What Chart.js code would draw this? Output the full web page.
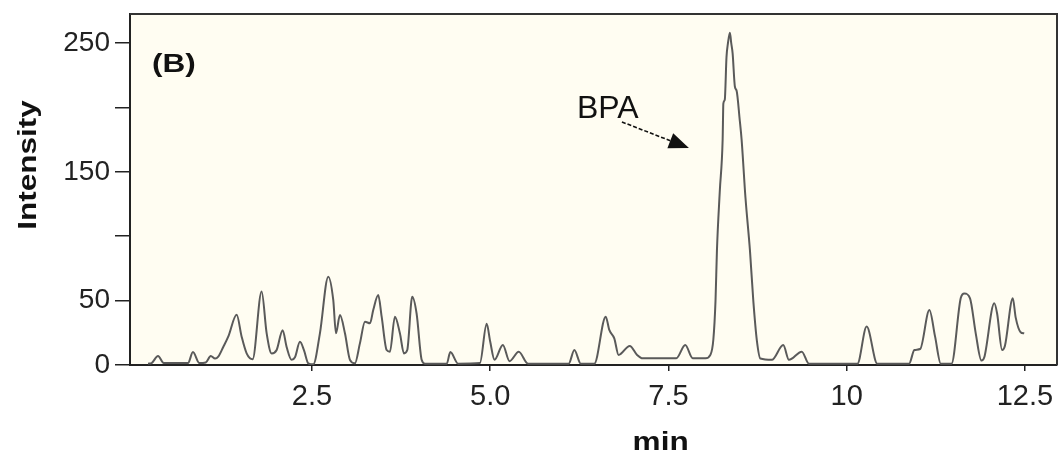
<!DOCTYPE html>
<html><head><meta charset="utf-8">
<script src="https://cdn.jsdelivr.net/npm/chart.js@4"></script>
<style>html,body{margin:0;padding:0;background:#fff;}</style>
</head><body>
<canvas id="c" width="1059" height="466"></canvas>
<script>
// ---- data ----
const times = [
  0.20,0.25,0.34,0.42,0.76,0.83,0.92,1.01,1.08,1.14,1.185,1.255,1.325,1.443,1.513,1.583,1.667,
  1.793,1.864,1.934,2.004,2.088,2.144,2.214,2.261,2.331,2.387,2.448,2.518,2.611,2.728,2.798,2.836,
  2.892,2.962,3.032,3.102,3.172,3.243,3.313,3.359,3.429,3.477,3.547,3.593,3.663,3.733,3.790,3.836,
  3.906,3.967,4.038,4.084,4.39,4.44,4.55,4.855,4.95,5.00,5.06,5.177,5.27,5.40,5.53,6.10,6.18,6.27,
  6.46,6.62,6.67,6.74,6.80,6.957,7.06,7.14,7.61,7.735,7.84,8.02,8.09,8.13,8.16,8.18,8.22,8.26,8.27,
  8.29,8.314,8.335,8.362,8.38,8.40,8.432,8.456,8.50,8.526,8.58,8.643,8.69,8.74,8.79,8.95,9.11,9.19,
  9.37,9.47,10.15,10.28,10.43,10.875,10.95,11.03,11.16,11.24,11.32,11.47,11.60,11.65,11.73,11.81,
  11.89,11.93,12.07,12.11,12.18,12.22,12.33,12.37,12.44,12.49
];
const intensity = [
  1,1.5,7,1.5,1.5,10,1.5,2,7,5,6.5,14,22,39,22,9,4.4,
  57,24.6,9,11.6,27,14,4,6,18,11.6,1.3,0.5,24.6,68.6,50.5,24.6,
  38.8,24.6,4,1.3,16.8,33.6,32.4,42.7,54.3,37.5,11.6,10.3,37.5,24.6,9,11.6,
  53,40,4,1,1,10,1,1.5,32,18,4,15.5,3,10.3,1,1,11.6,1,
  1,37.5,27.2,20.7,7.8,14.8,7.8,5.2,5.2,15.5,5.2,5.2,8,20,50,89,135,175,203,
  206,239,250,258,250,242,216,213,190,175,130,89,50,19,5,4,15.5,4,
  10.3,1,1,29.8,1,1,11.6,12.4,42.7,22,1,1,52,55.6,51.8,24.6,
  3.4,6,47.9,40,11.6,15,51.8,37,25.5,24.6
];
const xTicks = [2.5, 5, 7.5, 10, 12.5];
const xTickLabels = ['2.5', '5.0', '7.5', '10', '12.5'];
const yTicks = [0, 50, 100, 150, 200, 250];
const yTickLabels = ['0', '50', '', '150', '', '250'];
const xTitle = 'min';
const yTitle = 'Intensity';
const panelLabel = '(B)';
const peakLabel = 'BPA';

// ---- annotation placement (data coordinates) ----
const annot = {
  panel: {x: 0.255, y: 227.5},
  peak: {x: 6.216, y: 191.8},
  arrowFrom: {x: 6.847, y: 188.7},
  arrowTo: {x: 7.787, y: 168.5},
  xTitleX: 7.39,
  yTitleY: 155.3
};

const points = times.map((t, i) => ({x: t, y: intensity[i]}));

const bgPlugin = {
  id: 'bg',
  beforeDraw(chart) {
    const {ctx, chartArea: a} = chart;
    ctx.save();
    ctx.fillStyle = '#fffdf2';
    ctx.fillRect(a.left, a.top, a.right - a.left, a.bottom - a.top);
    ctx.restore();
  }
};

function stretchedText(ctx, txt, x, y, sx, rot, align) {
  ctx.save();
  ctx.translate(x, y);
  if (rot) ctx.rotate(rot);
  ctx.scale(sx, 1);
  ctx.textAlign = align;
  ctx.textBaseline = 'alphabetic';
  ctx.fillText(txt, 0, 0);
  ctx.restore();
}

const annotPlugin = {
  id: 'annot',
  afterDraw(chart) {
    const {ctx, chartArea: a, scales: {x, y}} = chart;
    ctx.save();
    // top and right frame
    ctx.strokeStyle = '#333';
    ctx.lineWidth = 2;
    ctx.beginPath();
    ctx.moveTo(a.left, a.top);
    ctx.lineTo(a.right, a.top);
    ctx.lineTo(a.right, a.bottom);
    ctx.stroke();

    ctx.fillStyle = '#111';
    ctx.font = 'bold 26.5px "Liberation Sans", Arial, sans-serif';
    stretchedText(ctx, panelLabel, x.getPixelForValue(annot.panel.x), y.getPixelForValue(annot.panel.y), 1.19, 0, 'left');
    stretchedText(ctx, xTitle, x.getPixelForValue(annot.xTitleX), a.bottom + 85, 1.19, 0, 'center');
    stretchedText(ctx, yTitle, 36, y.getPixelForValue(annot.yTitleY), 1.19, -Math.PI / 2, 'center');

    ctx.font = '32px "Liberation Sans", Arial, sans-serif';
    ctx.textAlign = 'left';
    ctx.textBaseline = 'alphabetic';
    ctx.fillText(peakLabel, x.getPixelForValue(annot.peak.x), y.getPixelForValue(annot.peak.y));

    const x1 = x.getPixelForValue(annot.arrowFrom.x), y1 = y.getPixelForValue(annot.arrowFrom.y);
    const x2 = x.getPixelForValue(annot.arrowTo.x), y2 = y.getPixelForValue(annot.arrowTo.y);
    const ang = Math.atan2(y2 - y1, x2 - x1);
    const hl = 20, hw = 8;
    const bx = x2 - hl * Math.cos(ang), by = y2 - hl * Math.sin(ang);
    ctx.strokeStyle = '#111';
    ctx.lineWidth = 1.6;
    ctx.setLineDash([4, 2]);
    ctx.beginPath();
    ctx.moveTo(x1, y1);
    ctx.lineTo(bx, by);
    ctx.stroke();
    ctx.setLineDash([]);
    ctx.beginPath();
    ctx.moveTo(x2, y2);
    ctx.lineTo(bx + hw * Math.sin(ang), by - hw * Math.cos(ang));
    ctx.lineTo(bx - hw * Math.sin(ang), by + hw * Math.cos(ang));
    ctx.closePath();
    ctx.fill();
    ctx.restore();
  }
};

new Chart(document.getElementById('c'), {
  type: 'line',
  data: {
    datasets: [{
      data: points,
      borderColor: '#5a5a5a',
      borderWidth: 2,
      pointRadius: 0,
      fill: false,
      cubicInterpolationMode: 'monotone'
    }]
  },
  options: {
    responsive: false,
    animation: false,
    devicePixelRatio: 1,
    layout: {padding: {left: 0, top: 14, right: 2, bottom: 0}},
    plugins: {legend: {display: false}, tooltip: {enabled: false}, title: {display: false}},
    scales: {
      x: {
        type: 'linear',
        min: -0.053,
        max: 12.95,
        afterBuildTicks: s => { s.ticks = xTicks.map(v => ({value: v})); },
        afterFit: s => { s.height = 101; s.paddingLeft = 0; s.paddingRight = 0; },
        ticks: {
          callback: v => xTickLabels[xTicks.indexOf(v)],
          font: {family: '"Liberation Sans", Arial, sans-serif', size: 29},
          color: '#222',
          padding: 9,
          maxRotation: 0,
          autoSkip: false
        },
        grid: {drawOnChartArea: false, drawTicks: true, tickLength: 6, color: '#222', lineWidth: 1.5},
        border: {display: true, color: '#222', width: 2}
      },
      y: {
        type: 'linear',
        min: 0,
        max: 272.5,
        afterBuildTicks: s => { s.ticks = yTicks.map(v => ({value: v})); },
        afterFit: s => { s.width = 130; s.paddingTop = 0; s.paddingBottom = 0; },
        ticks: {
          callback: v => yTickLabels[yTicks.indexOf(v)],
          font: {family: '"Liberation Sans", Arial, sans-serif', size: 28},
          color: '#222',
          padding: 5,
          autoSkip: false
        },
        grid: {drawOnChartArea: false, drawTicks: true, tickLength: 15, color: '#222', lineWidth: 1.5},
        border: {display: true, color: '#222', width: 2}
      }
    }
  },
  plugins: [bgPlugin, annotPlugin]
});
</script>
</body></html>
